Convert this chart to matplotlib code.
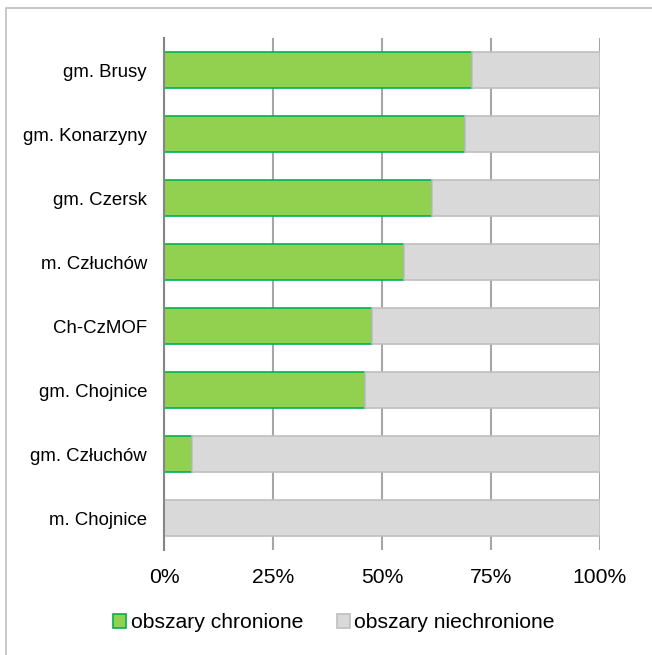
import numpy as np
import matplotlib
matplotlib.use("Agg")
import matplotlib.pyplot as plt
from matplotlib.patches import Rectangle

plt.rcParams['font.family'] = ['Liberation Sans', 'DejaVu Sans']

# data (percent share of area), top to bottom as in the picture
units = ["gm. Brusy", "gm. Konarzyny", "gm. Czersk", "m. Człuchów",
         "Ch-CzMOF", "gm. Chojnice", "gm. Człuchów", "m. Chojnice"]
protected = [70.6, 69.1, 61.5, 55.1, 47.8, 46.2, 6.5, 0.0]
unprotected = [100 - v for v in protected]
x_ticks = [0, 25, 50, 75, 100]
x_labels = ["0%", "25%", "50%", "75%", "100%"]

fig = plt.figure(figsize=(6.52, 6.55), dpi=100)
ax = fig.add_axes([0.2515, 0.160, 0.6685, 0.782])

y = np.arange(len(units))
ax.barh(y, protected, height=0.57, color='#92D050', edgecolor='#00B050',
        linewidth=1.2, label='obszary chronione', zorder=3)
ax.barh(y, unprotected, left=protected, height=0.57, color='#D9D9D9',
        edgecolor='#BFBFBF', linewidth=1.2, label='obszary niechronione', zorder=3)

ax.set_xlim(0, 100)
ax.set_ylim(len(units) - 0.5, -0.5)
ax.set_yticks(y)
ax.set_yticklabels(units, fontsize=13.4)
ax.set_xticks(x_ticks)
ax.set_xticklabels(x_labels, fontsize=15.2)
ax.tick_params(axis='both', length=0)
ax.tick_params(axis='y', pad=12.2)
ax.tick_params(axis='x', pad=12.5)

# vertical grid
ax.grid(axis='x', color='#A6A6A6', linewidth=1.5, zorder=0)
for s in ['top', 'right', 'bottom']:
    ax.spines[s].set_visible(False)
ax.spines['left'].set_color('#868686')
ax.spines['left'].set_linewidth(1.5)
ax.spines['left'].set_zorder(4)

ax.legend(loc='center', bbox_to_anchor=(334 / 652, 1 - 623 / 655),
          bbox_transform=fig.transFigure, ncol=2, frameon=False, fontsize=15.2,
          handlelength=0.62, handleheight=0.62, handletextpad=0.2, columnspacing=1.6)

# outer chart frame (only left and top edges visible, rest cropped)
fig.patches.append(Rectangle((6 / 652, -0.05), 1.1, 1 - 8 / 655 + 0.05,
                             transform=fig.transFigure, fill=False,
                             edgecolor='#BFBFBF', linewidth=1.2))

fig.savefig("out.png", dpi=100)
